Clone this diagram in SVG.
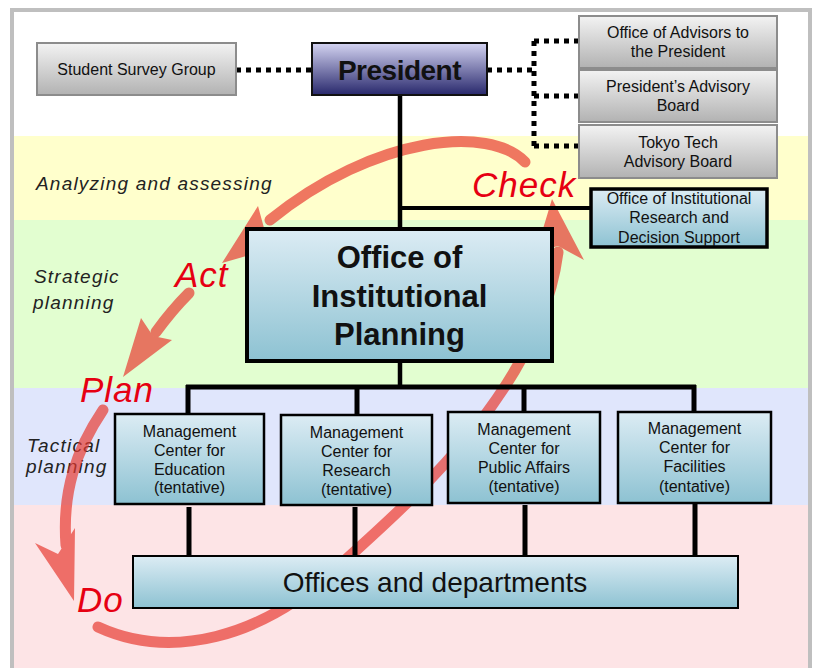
<svg xmlns="http://www.w3.org/2000/svg" width="818" height="668" viewBox="0 0 818 668">
<style>
.t{font-family:"Liberation Sans",Arial,sans-serif;fill:#111;text-anchor:middle}
.band{font-family:"Liberation Sans",Arial,sans-serif;font-style:italic;fill:#222;font-size:19px;letter-spacing:1.2px}
.pdca{font-family:"Liberation Sans",Arial,sans-serif;font-style:italic;fill:#e60012;font-size:35px;letter-spacing:1px}
.gray{fill:url(#gGray);stroke:#8c8c8c;stroke-width:2}
.blue{fill:url(#gBlue);stroke:#000}
.solid{stroke:#000;fill:none}
.dot{stroke:#000;fill:none;stroke-width:5;stroke-dasharray:5 5}
.arc{fill:none;stroke:#e8372e;stroke-width:11;stroke-linecap:round}
.head{fill:#e8372e}
</style>
<defs>
<linearGradient id="gGray" x1="0" y1="0" x2="0" y2="1"><stop offset="0" stop-color="#f3f3f3"/><stop offset="1" stop-color="#b2b2b2"/></linearGradient>
<linearGradient id="gBlue" x1="0" y1="0" x2="0" y2="1"><stop offset="0" stop-color="#dcecf4"/><stop offset="1" stop-color="#8dc2d2"/></linearGradient>
<linearGradient id="gPres" x1="0" y1="0" x2="0" y2="1"><stop offset="0" stop-color="#d4d4f2"/><stop offset="1" stop-color="#28286c"/></linearGradient>
</defs>
<g id="background">
<rect x="0" y="0" width="818" height="668" fill="#fff"/>
<rect x="12" y="10" width="798" height="670" fill="#fff" stroke="#bfbfbf" stroke-width="4"/>
<rect x="14" y="136" width="794" height="84" fill="#ffffcc"/>
<rect x="14" y="220" width="794" height="168" fill="#e2fed0"/>
<rect x="14" y="388" width="794" height="117" fill="#e0e6fc"/>
<rect x="14" y="505" width="794" height="165" fill="#fde4e6"/>
</g>
<g id="band-labels">
<text class="band" x="36" y="190">Analyzing and assessing</text>
<text class="band" x="34" y="283">Strategic</text>
<text class="band" x="33" y="309">planning</text>
<text class="band" x="27" y="452">Tactical</text>
<text class="band" x="26" y="473">planning</text>
</g>
<g id="cycle-arrows" opacity="0.68">
<path class="arc" d="M525,162 C490,125 375,135 270,220"/>
<polygon class="head" points="222,263 258,206 264,228 288,244"/>
<path class="arc" d="M189,293 Q172,310 156,332"/>
<polygon class="head" points="123,377 141,318 153,336 172,340"/>
<path class="arc" d="M103,410 C76,450 62,492 66,545"/>
<polygon class="head" points="74,601 35,543 58,554 75,528"/>
<path class="arc" d="M98,627 C170,660 260,640 340,565 C395,514 540,395 558,252"/>
<polygon class="head" points="552,199 584,260 558,246 536,252"/>
</g>
<g id="connectors">
<path class="solid" stroke-width="4.5" d="M400,95 V228"/>
<path class="solid" stroke-width="4" d="M398,208 H591"/>
<path class="solid" stroke-width="4.5" d="M400,362 V389"/>
<path class="solid" stroke-width="5" d="M186,387 H696"/>
<path class="solid" stroke-width="5" d="M188,385 V414 M357,385 V414 M524,385 V412 M694,385 V412"/>
<path class="solid" stroke-width="5" d="M189,507 V556 M355,507 V556 M525,505 V556 M695,503 V556"/>
<path class="dot" d="M236,70 H311"/>
<path class="dot" d="M487,70 H534 M534,41 V146 M534,41 H579 M534,96 H579 M534,146 H579"/>
</g>
<g id="student-survey-group">
<rect class="gray" x="37" y="43" width="199" height="52"/>
<text class="t" x="136.5" y="75" font-size="16">Student Survey Group</text>
</g>
<g id="president">
<rect x="312" y="43" width="175" height="52" fill="url(#gPres)" stroke="#111" stroke-width="2"/>
<text class="t" x="399.5" y="80" font-size="28" font-weight="bold" letter-spacing="-0.5">President</text>
</g>
<g id="office-of-advisors">
<rect class="gray" x="579" y="16" width="198" height="52"/>
<text class="t" x="678" y="37.5" font-size="16">Office of Advisors to</text>
<text class="t" x="678" y="56.5" font-size="16">the President</text>
</g>
<g id="presidents-advisory-board">
<rect class="gray" x="579" y="70" width="198" height="52"/>
<text class="t" x="678" y="91.5" font-size="16">President’s Advisory</text>
<text class="t" x="678" y="111" font-size="16">Board</text>
</g>
<g id="tokyo-tech-advisory-board">
<rect class="gray" x="579" y="125" width="198" height="53"/>
<text class="t" x="678" y="147.5" font-size="16">Tokyo Tech</text>
<text class="t" x="678" y="166.5" font-size="16">Advisory Board</text>
</g>
<g id="office-of-institutional-research">
<rect class="blue" x="591" y="189" width="176" height="58" stroke-width="3.5"/>
<text class="t" x="679" y="204" font-size="16">Office of Institutional</text>
<text class="t" x="679" y="223" font-size="16">Research and</text>
<text class="t" x="679" y="242.5" font-size="16">Decision Support</text>
</g>
<g id="office-of-institutional-planning">
<rect class="blue" x="247" y="229" width="305" height="132" stroke-width="4"/>
<text class="t" x="399.5" y="268" font-size="31" font-weight="bold">Office of</text>
<text class="t" x="399.5" y="307" font-size="31" font-weight="bold">Institutional</text>
<text class="t" x="399.5" y="345" font-size="31" font-weight="bold">Planning</text>
</g>
<g id="mc-education">
<rect class="blue" x="115" y="414" width="149" height="90" stroke-width="2.5"/>
<text class="t" x="189.5" y="436.5" font-size="16">Management</text>
<text class="t" x="189.5" y="455.5" font-size="16">Center for</text>
<text class="t" x="189.5" y="474.5" font-size="16">Education</text>
<text class="t" x="189.5" y="493" font-size="16">(tentative)</text>
</g>
<g id="mc-research">
<rect class="blue" x="281" y="415" width="151" height="90" stroke-width="2.5"/>
<text class="t" x="356.5" y="437.5" font-size="16">Management</text>
<text class="t" x="356.5" y="457" font-size="16">Center for</text>
<text class="t" x="356.5" y="475.5" font-size="16">Research</text>
<text class="t" x="356.5" y="494.5" font-size="16">(tentative)</text>
</g>
<g id="mc-public-affairs">
<rect class="blue" x="448" y="412" width="152" height="91" stroke-width="2.5"/>
<text class="t" x="524" y="434.5" font-size="16">Management</text>
<text class="t" x="524" y="453.5" font-size="16">Center for</text>
<text class="t" x="524" y="472.5" font-size="16">Public Affairs</text>
<text class="t" x="524" y="491.5" font-size="16">(tentative)</text>
</g>
<g id="mc-facilities">
<rect class="blue" x="618" y="412" width="153" height="91" stroke-width="2.5"/>
<text class="t" x="694.5" y="433.5" font-size="16">Management</text>
<text class="t" x="694.5" y="453" font-size="16">Center for</text>
<text class="t" x="694.5" y="472" font-size="16">Facilities</text>
<text class="t" x="694.5" y="491.5" font-size="16">(tentative)</text>
</g>
<g id="offices-and-departments">
<rect class="blue" x="133" y="556" width="605" height="52" stroke-width="2"/>
<text class="t" x="435" y="592" font-size="28">Offices and departments</text>
</g>
<g id="pdca-labels">
<text class="pdca" x="472" y="197">Check</text>
<text class="pdca" x="175" y="287" letter-spacing="2">Act</text>
<text class="pdca" x="80" y="402">Plan</text>
<text class="pdca" x="77" y="612">Do</text>
</g>
</svg>
